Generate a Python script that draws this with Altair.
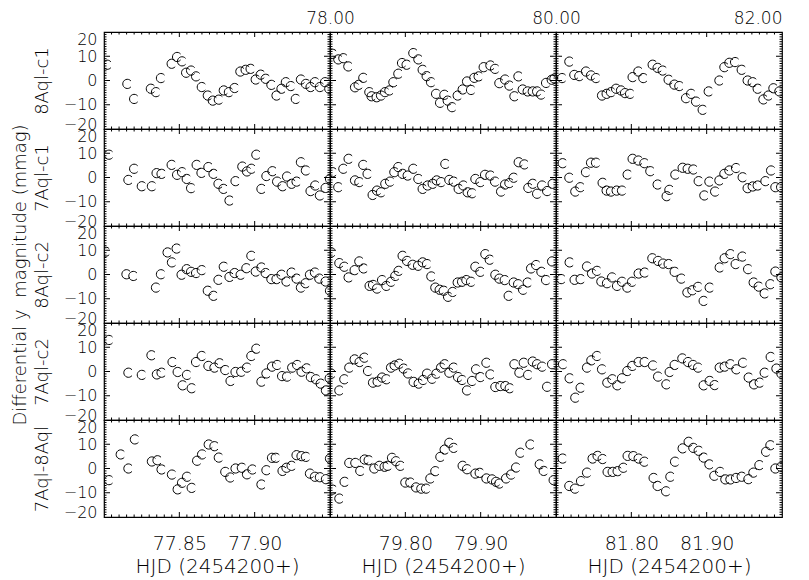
import altair as alt
import pandas as pd
import numpy as np

# ---------------- data ----------------
# column 1 (HJD 2454277.80 - 77.95)
c1r1_t = [77.8022,77.8155,77.8200,77.8311,77.8345,77.8378,77.8449,77.8485,77.8518,77.8545,77.8578,77.8611,77.8649,77.8689,77.8722,77.8762,77.8795,77.8829,77.8867,77.8905,77.8940,77.8973,77.9007,77.9040,77.9073,77.9111,77.9145,77.9178,77.9207,77.9240,77.9273,77.9307,77.9340,77.9371,77.9400,77.9433,77.9467,77.9495]
c1r1_v = [6.5,-1.4,-7.6,-3.4,-4.8,1.0,6.9,9.7,7.9,3.2,4.1,1.7,-2.7,-6.2,-8.3,-7.9,-4.1,-4.8,-3.1,3.7,4.4,4.8,0.4,2.4,0.7,-1.8,-6.2,-3.4,-0.7,-2.3,-7.6,0.4,-1.4,-2.7,-0.7,-2.7,-0.7,-3.4]
c1r2_t = [77.8033,77.8162,77.8200,77.8251,77.8318,77.8349,77.8382,77.8449,77.8485,77.8518,77.8549,77.8578,77.8615,77.8647,77.8693,77.8727,77.8760,77.8793,77.8833,77.8873,77.8918,77.8949,77.8978,77.9011,77.9045,77.9078,77.9118,77.9149,77.9185,77.9215,77.9245,77.9278,77.9307,77.9340,77.9371,77.9402,77.9433,77.9471,77.9500]
c1r2_v = [9.4,-1.0,3.6,-3.6,-3.6,1.8,1.5,5.2,1.1,2.2,-0.6,-4.4,5.2,1.9,4.3,1.5,-2.6,-4.7,-9.5,-1.5,4.5,2.5,3.6,9.4,-4.7,0.6,2.6,-1.7,-3.6,0.4,-2.6,-1.7,6.3,2.9,-5.6,-3.3,-7.4,-4.3,-0.6]
c1r3_t = [77.8011,77.8149,77.8195,77.8345,77.8378,77.8422,77.8451,77.8482,77.8515,77.8549,77.8578,77.8611,77.8649,77.8689,77.8727,77.8760,77.8795,77.8833,77.8867,77.8907,77.8945,77.8978,77.9007,77.9045,77.9073,77.9111,77.9145,77.9178,77.9211,77.9245,77.9278,77.9307,77.9338,77.9367,77.9400,77.9429,77.9471,77.9500]
c1r3_v = [9.4,0.1,-0.6,-5.4,0.1,9.1,5.0,10.7,-0.1,2.2,1.1,0.6,1.8,-6.7,-8.8,-2.2,3.2,-1.0,0.6,-0.1,2.6,7.7,1.2,2.9,0.6,-1.9,-1.9,-0.1,-2.9,0.8,-1.7,-5.4,-3.6,-0.1,0.8,-1.7,-2.9,-6.7]
c1r4_t = [77.8033,77.8162,77.8251,77.8315,77.8351,77.8382,77.8455,77.8489,77.8522,77.8551,77.8582,77.8611,77.8649,77.8693,77.8733,77.8767,77.8805,77.8840,77.8873,77.8911,77.8949,77.8978,77.9011,77.9045,77.9078,77.9115,77.9149,77.9182,77.9215,77.9249,77.9282,77.9311,77.9345,77.9373,77.9407,77.9438,77.9473,77.9498]
c1r4_v = [13.0,-0.5,-1.4,6.7,-1.2,-0.5,3.9,-0.2,-5.7,-1.4,-6.9,3.9,6.4,2.3,1.6,3.4,0.6,-3.9,-0.2,-0.1,1.6,6.4,9.4,-4.2,-0.8,2.0,2.7,-1.9,-2.1,1.6,2.7,-0.1,1.3,-2.3,-3.2,-5.0,-7.8,-2.8]
c1r5_t = [77.8033,77.8111,77.8162,77.8205,77.8318,77.8355,77.8382,77.8451,77.8489,77.8518,77.8551,77.8582,77.8618,77.8651,77.8695,77.8733,77.8762,77.8805,77.8838,77.8873,77.8915,77.8949,77.8985,77.9045,77.9078,77.9115,77.9140,77.9185,77.9211,77.9245,77.9278,77.9311,77.9340,77.9367,77.9400,77.9433,77.9473,77.9500]
c1r5_v = [-4.8,5.8,0.0,12.0,2.9,3.4,-0.4,-2.5,-8.6,-5.9,-3.4,-8.0,3.2,5.8,9.9,9.2,4.5,-1.4,-3.7,0.0,0.3,-2.4,-0.4,-6.6,-0.7,4.4,4.4,-1.0,0.3,1.1,5.5,5.1,4.8,-2.1,-3.4,-3.6,-4.4,4.1]

# column 2 (HJD 79.70 - 80.00)
c2r1_t = [79.7034,79.7110,79.7177,79.7243,79.7332,79.7380,79.7442,79.7522,79.7552,79.7619,79.7677,79.7730,79.7788,79.7841,79.7907,79.7956,79.8017,79.8106,79.8173,79.8230,79.8283,79.8341,79.8408,79.8461,79.8518,79.8562,79.8620,79.8695,79.8761,79.8819,79.8872,79.8916,79.8973,79.9040,79.9129,79.9191,79.9248,79.9324,79.9381,79.9448,79.9501,79.9558,79.9624,79.9691,79.9749,79.9802,79.9868,79.9943,79.9979]
c2r1_v = [11.0,8.7,9.2,5.8,-2.8,-1.8,1.1,-4.8,-6.5,-6.9,-6.2,-4.8,-4.1,-0.7,2.8,7.2,6.5,11.3,8.7,4.4,1.8,-0.7,-5.5,-9.2,-5.9,-8.3,-11.0,-6.2,-3.7,-0.4,-3.9,1.1,1.7,5.5,6.2,4.8,-1.1,0.4,-2.1,-6.5,1.7,-3.7,-4.5,-4.5,-4.5,-5.8,-1.0,0.3,0.8]
c2r2_t = [79.7034,79.7110,79.7177,79.7247,79.7332,79.7389,79.7442,79.7499,79.7566,79.7624,79.7677,79.7734,79.7797,79.7854,79.7907,79.7964,79.8031,79.8106,79.8173,79.8230,79.8296,79.8363,79.8416,79.8474,79.8531,79.8584,79.8641,79.8708,79.8770,79.8827,79.8886,79.8930,79.8996,79.9058,79.9129,79.9191,79.9271,79.9324,79.9381,79.9438,79.9505,79.9580,79.9633,79.9691,79.9749,79.9815,79.9882,79.9956]
c2r2_v = [2.2,-4.0,3.6,7.7,-1.2,-1.9,5.2,1.5,-7.2,-5.4,-6.1,-2.6,-1.7,2.2,4.3,1.5,0.8,3.6,-0.6,-4.7,-3.3,-2.6,-1.2,-1.9,5.6,-1.0,-1.7,-4.7,-3.3,-6.1,-6.5,-0.6,-1.9,1.1,0.8,-1.7,-5.8,-2.9,-2.3,-0.1,6.3,5.4,-4.3,-2.6,-6.7,-3.3,-5.6,-2.6]
c2r3_t = [79.7017,79.7124,79.7190,79.7247,79.7327,79.7389,79.7446,79.7526,79.7571,79.7624,79.7691,79.7748,79.7810,79.7867,79.7911,79.7964,79.8023,79.8097,79.8169,79.8230,79.8288,79.8345,79.8398,79.8456,79.8509,79.8567,79.8628,79.8695,79.8753,79.8810,79.8872,79.8930,79.8996,79.9062,79.9120,79.9195,79.9248,79.9319,79.9372,79.9438,79.9497,79.9563,79.9624,79.9669,79.9736,79.9806,79.9868,79.9948]
c2r3_v = [9.1,4.7,3.2,-1.2,1.8,5.4,2.5,-4.7,-4.3,-5.8,-2.3,-4.7,-3.0,-0.6,1.5,7.7,5.6,4.0,3.6,5.0,4.3,-0.8,-5.4,-6.3,-6.7,-9.2,-7.2,-3.3,-3.0,-2.3,-3.0,3.2,1.1,8.4,6.1,-0.1,-1.7,-2.3,-8.8,-3.3,-4.0,-6.3,-3.3,2.5,3.9,1.1,-2.3,5.4]
c2r4_t = [79.7017,79.7124,79.7190,79.7256,79.7327,79.7393,79.7456,79.7505,79.7571,79.7632,79.7691,79.7748,79.7810,79.7858,79.7920,79.7977,79.8036,79.8110,79.8177,79.8235,79.8288,79.8355,79.8412,79.8474,79.8522,79.8584,79.8641,79.8700,79.8753,79.8819,79.8886,79.8939,79.8996,79.9076,79.9129,79.9195,79.9262,79.9328,79.9385,79.9448,79.9514,79.9571,79.9630,79.9691,79.9749,79.9815,79.9882,79.9948]
c2r4_v = [-0.9,-7.8,-3.2,1.6,5.0,3.9,5.7,0.2,-4.6,-4.2,-2.5,-3.2,1.6,2.5,3.2,1.2,-0.8,-4.3,-5.0,-3.5,-0.9,-3.0,-0.9,1.6,3.0,-0.5,1.6,-2.3,-3.5,-7.8,-3.9,0.9,-2.3,3.6,-1.2,-6.4,-6.0,-6.0,-6.9,3.0,-0.5,3.6,-1.4,4.1,3.0,2.0,-6.3,3.0]
c2r5_t = [79.7034,79.7124,79.7194,79.7256,79.7336,79.7402,79.7460,79.7513,79.7588,79.7655,79.7725,79.7765,79.7823,79.7876,79.7934,79.8000,79.8066,79.8142,79.8212,79.8275,79.8332,79.8398,79.8465,79.8522,79.8584,79.8641,79.8761,79.8819,79.8930,79.8987,79.9076,79.9151,79.9204,79.9248,79.9337,79.9404,79.9470,79.9527,79.9660,79.9784,79.9837,79.9969]
c2r5_v = [-8.7,-12.4,-5.5,2.3,2.3,-1.0,3.7,3.4,0.0,1.1,0.7,1.1,4.4,3.0,1.1,-5.8,-5.8,-7.8,-8.3,-8.3,-4.1,-1.1,4.8,7.8,10.6,8.5,1.1,-0.3,-2.1,-1.8,-4.1,-4.5,-5.5,-6.2,-4.1,-2.5,0.4,6.5,9.9,1.7,-1.0,-4.8]

# column 3 (HJD 81.70 - 82.00)
c3r1_t = [81.7080,81.7177,81.7243,81.7309,81.7398,81.7465,81.7531,81.7611,81.7672,81.7730,81.7797,81.7863,81.7916,81.7983,81.8017,81.8093,81.8159,81.8283,81.8349,81.8416,81.8495,81.8571,81.8637,81.8726,81.8793,81.8859,81.8947,81.9027,81.9169,81.9235,81.9301,81.9377,81.9465,81.9544,81.9611,81.9677,81.9753,81.9819,81.9886,81.9965]
c3r1_v = [1.0,7.8,2.3,1.8,3.7,2.1,1.0,-6.2,-5.5,-4.8,-3.4,-4.1,-5.2,-5.5,1.4,3.7,1.0,6.5,5.2,4.1,0.3,-1.7,-2.3,-7.3,-5.5,-8.7,-12.1,-4.5,0.0,5.5,7.3,7.6,4.4,0.0,-0.7,-3.4,-7.8,-6.2,-3.2,-4.5]
c3r2_t = [81.7088,81.7177,81.7256,81.7323,81.7398,81.7465,81.7531,81.7619,81.7672,81.7730,81.7805,81.7876,81.7951,81.8017,81.8093,81.8173,81.8252,81.8349,81.8469,81.8505,81.8584,81.8681,81.8748,81.8823,81.8894,81.8969,81.9036,81.9112,81.9169,81.9235,81.9301,81.9390,81.9478,81.9544,81.9611,81.9677,81.9780,81.9855,81.9912,81.9988]
c3r2_v = [5.9,-0.1,-5.8,-4.0,2.2,6.1,6.1,-2.2,-5.4,-5.8,-5.4,-5.4,1.2,7.7,7.0,5.9,2.6,-2.9,-7.7,-5.1,1.2,4.0,3.6,3.3,-1.5,-7.4,-1.7,-5.8,-1.2,1.5,2.9,3.9,0.1,-4.4,-3.7,-3.3,-1.5,2.9,-4.0,-4.0]
c3r3_t = [81.7070,81.7181,81.7247,81.7327,81.7412,81.7478,81.7544,81.7602,81.7677,81.7744,81.7810,81.7876,81.7947,81.8009,81.8097,81.8177,81.8279,81.8355,81.8421,81.8495,81.8575,81.8664,81.8744,81.8810,81.8886,81.8960,81.9040,81.9173,81.9239,81.9315,81.9385,81.9474,81.9550,81.9624,81.9691,81.9770,81.9846,81.9912,81.9992]
c3r3_v = [-1.9,5.0,-2.2,-1.9,3.3,0.4,1.5,-2.9,-3.6,-1.2,-4.7,-3.0,-5.4,-3.0,0.4,0.8,6.7,5.6,4.5,4.3,1.1,-1.7,-7.4,-6.5,-5.1,-10.9,-5.4,2.9,6.7,8.4,4.3,7.4,2.2,-3.3,-5.0,-7.8,-4.0,1.2,-1.2]
c3r4_t = [81.7093,81.7181,81.7256,81.7327,81.7412,81.7469,81.7544,81.7611,81.7681,81.7748,81.7814,81.7876,81.7947,81.8013,81.8097,81.8177,81.8288,81.8355,81.8465,81.8509,81.8575,81.8677,81.8753,81.8819,81.8886,81.8960,81.9040,81.9106,81.9173,81.9239,81.9315,81.9394,81.9483,81.9558,81.9629,81.9704,81.9770,81.9850,81.9926,81.9992]
c3r4_v = [3.0,-2.8,-10.8,-6.7,1.6,4.6,6.4,0.9,-4.6,-3.2,-5.7,-2.8,0.2,2.3,3.9,3.9,2.5,-2.1,-5.3,-0.2,2.7,5.4,3.9,2.7,1.6,-5.7,-3.9,-5.6,1.6,2.0,3.0,0.9,3.6,-2.5,-5.3,-4.6,-0.5,6.0,1.2,-0.9]
c3r5_t = [81.7088,81.7177,81.7252,81.7332,81.7412,81.7486,81.7552,81.7619,81.7685,81.7752,81.7818,81.7894,81.7951,81.8027,81.8097,81.8173,81.8296,81.8349,81.8461,81.8518,81.8580,81.8681,81.8761,81.8823,81.8894,81.8960,81.9036,81.9102,81.9178,81.9248,81.9315,81.9390,81.9465,81.9554,81.9620,81.9700,81.9789,81.9846,81.9912,81.9988]
c3r5_v = [4.1,-7.2,-8.3,-5.2,-1.7,4.1,5.2,3.9,-1.4,-1.4,-1.1,0.3,5.2,5.1,4.1,2.8,-3.9,-7.2,-9.4,-3.4,2.8,8.3,11.0,8.5,7.3,4.5,1.7,-3.0,-1.4,-4.5,-4.5,-3.9,-3.4,-4.4,-1.7,1.4,6.9,9.6,0.0,0.7]

# axes / labels
col_domains = [[77.80, 77.95], [79.70, 80.00], [81.70, 82.00]]
col_major = [[77.85, 77.90], [79.80, 79.90], [81.80, 81.90]]
col_minor_step = [0.005, 0.01, 0.01]
top_values = [78.00, 80.00, 82.00]
row_titles = ["8Aql-c1", "7Aql-c1", "8Aql-c2", "7Aql-c2", "7Aql-8Aql"]
y_title_main = "Differential y \u00a0magnitude (mmag)"
x_title = "HJD (2454200+)"
y_major = [-20, -10, 0, 10, 20]

T = [[c1r1_t, c1r2_t, c1r3_t, c1r4_t, c1r5_t],
     [c2r1_t, c2r2_t, c2r3_t, c2r4_t, c2r5_t],
     [c3r1_t, c3r2_t, c3r3_t, c3r4_t, c3r5_t]]
V = [[c1r1_v, c1r2_v, c1r3_v, c1r4_v, c1r5_v],
     [c2r1_v, c2r2_v, c2r3_v, c2r4_v, c2r5_v],
     [c3r1_v, c3r2_v, c3r3_v, c3r4_v, c3r5_v]]

# ---------------- styling ----------------
W, H = 226, 97
FONT = "DejaVu Sans"
C_PATH = "M 0.77 -0.64 A 1 1 0 1 0 0.77 0.64"   # open circle, gap on the right

yvals = list(range(-19, 20))
ytick_df = pd.DataFrame({"v": yvals, "len": [12 if v % 10 == 0 else 5 for v in yvals]})

xtick_dfs = []
for c in range(3):
    lo, hi = col_domains[c]
    st = col_minor_step[c]
    n = int(round((hi - lo) / st))
    vals = [round(lo + k * st, 4) for k in range(1, n)]
    lens = [10 if any(abs(v - m) < 1e-6 for m in col_major[c]) else 5 for v in vals]
    xtick_dfs.append(pd.DataFrame({"v": vals, "len": lens}))


def panel(r, c):
    lo, hi = col_domains[c]
    xs = alt.Scale(domain=[lo, hi], nice=False, zero=False)
    ys = alt.Scale(domain=[-20, 20], nice=False, zero=False)
    if c == 0:
        title = [y_title_main, row_titles[r]] if r == 2 else row_titles[r]
        yaxis = alt.Axis(values=y_major, ticks=False, tickSize=0, domain=False, grid=False,
                         orient="left",
                         labelFontSize=16, labelPadding=7, labelFlush=False,
                         labelOffset={"condition": [{"test": "datum.value == 20", "value": 7},
                                                    {"test": "datum.value == -20", "value": -5}],
                                      "value": 0},
                         title=title, titleFontSize=18, titlePadding=12, titleLineHeight=22)
    else:
        yaxis = None
    if r == 4:
        xaxis = alt.Axis(values=col_major[c], format=".2f", ticks=False, tickSize=0, domain=False,
                         orient="bottom",
                         grid=False, labelFlush=False, labelFontSize=19, labelPadding=17,
                         title=x_title, titleFontSize=20, titlePadding=3)
    else:
        xaxis = None

    n = min(len(T[c][r]), len(V[c][r]))
    df = pd.DataFrame({"hjd": T[c][r][:n], "dmag": V[c][r][:n]})
    pts = alt.Chart(df).mark_point(shape=C_PATH, filled=False, size=85, color="black",
                                   strokeWidth=1, opacity=1, clip=True).encode(
        x=alt.X("hjd:Q", scale=xs, axis=xaxis),
        y=alt.Y("dmag:Q", scale=ys, axis=yaxis),
    )
    yt = alt.Chart(ytick_df)
    tick_kw = dict(color="black", thickness=1, opacity=1, clip=True)
    left = yt.mark_tick(orient="horizontal", **tick_kw).encode(
        y=alt.Y("v:Q", scale=ys, axis=None), x=alt.value(0),
        size=alt.Size("len:Q", scale=None, legend=None))
    right = yt.mark_tick(orient="horizontal", **tick_kw).encode(
        y=alt.Y("v:Q", scale=ys, axis=None), x=alt.value(W),
        size=alt.Size("len:Q", scale=None, legend=None))
    xt = alt.Chart(xtick_dfs[c])
    top = xt.mark_tick(orient="vertical", **tick_kw).encode(
        x=alt.X("v:Q", scale=xs, axis=None), y=alt.value(0),
        size=alt.Size("len:Q", scale=None, legend=None))
    bottom = xt.mark_tick(orient="vertical", **tick_kw).encode(
        x=alt.X("v:Q", scale=xs, axis=None), y=alt.value(H),
        size=alt.Size("len:Q", scale=None, legend=None))
    layers = [pts, left, right, top, bottom]
    if r == 0:
        tv = top_values[c]
        flush = 5 if c == 2 else False
        toplab = alt.Chart(pd.DataFrame({"d": [tv]})).mark_point(opacity=0, clip=True).encode(
            x=alt.X("d:Q", scale=alt.Scale(domain=[tv - 1, tv], nice=False, zero=False),
                    axis=alt.Axis(orient="top", values=[tv], format=".2f", ticks=False, tickSize=0,
                                  domain=False, grid=False, labelFlush=flush, labelFontSize=17,
                                  labelPadding=5, title=None)))
        layers.append(toplab)
        ch = alt.layer(*layers).resolve_scale(x="independent").resolve_axis(x="independent", y="independent")
    else:
        ch = alt.layer(*layers).resolve_axis(x="independent", y="independent")
    return ch.properties(width=W, height=H)


panels = [panel(r, c) for r in range(5) for c in range(3)]

chart = alt.concat(*panels, columns=3, spacing=0, bounds="flush").properties(
    padding={"left": 2, "top": 0, "right": 0, "bottom": 0},
    background="white",
).configure_view(
    stroke="black", strokeWidth=1.2
).configure_axis(
    labelFont=FONT, titleFont=FONT, labelColor="black", titleColor="black",
    titleFontWeight=300, labelFontWeight=300,
)

chart.save("out.html", embed_options={"renderer": "svg", "actions": False})
